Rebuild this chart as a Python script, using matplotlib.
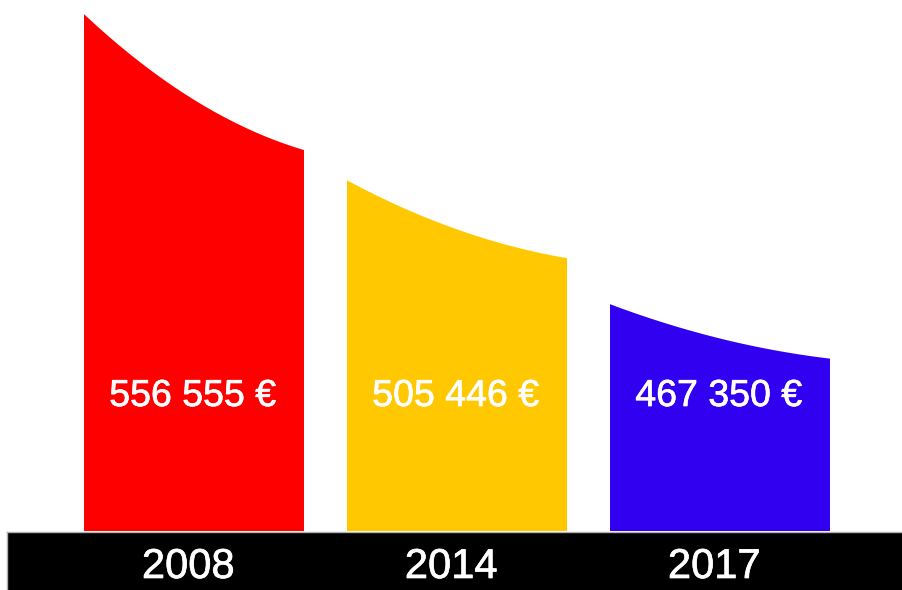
import numpy as np
import matplotlib
matplotlib.use("Agg")
import matplotlib.pyplot as plt
import matplotlib.patheffects as pe
from matplotlib.transforms import blended_transform_factory

# ---- data ----
years = ["2008", "2014", "2017"]
values = [556555, 505446, 467350]
value_labels = ["556 555 €", "505 446 €", "467 350 €"]

# ---- style ----
colors = ["#FF0000", "#FFC800", "#3200F0"]
taper = [0.737, 0.778, 0.76]       # right-edge height as fraction of left-edge height
BASE, YTOP = 397600, 560900
BAR_W = 220 / 263
CURVE_C = 0.76

plt.rcParams['font.family'] = ['Liberation Sans', 'DejaVu Sans']

W, H = 902, 590
fig = plt.figure(figsize=(W / 100, H / 100), dpi=100)
fig.patch.set_facecolor("white")

ax = fig.add_axes([0, 59 / H, 1, 531 / H])
ax.set_xlim(-194 / 263, (W - 194) / 263)
ax.set_ylim(BASE, YTOP)
ax.axis("off")

t = np.linspace(0, 1, 200)
f = 2 * t * (1 - t) * CURVE_C + t ** 2
for i, (v, c, tp) in enumerate(zip(values, colors, taper)):
    x0, x1 = i - BAR_W / 2, i + BAR_W / 2
    y_left = v
    y_right = BASE + (v - BASE) * tp
    xs_top = x0 + (x1 - x0) * t
    ys_top = y_left + (y_right - y_left) * f
    xs = np.concatenate([[x0], xs_top, [x1, x0]])
    ys = np.concatenate([[BASE], ys_top, [BASE, BASE]])
    ax.fill(xs, ys, color=c, lw=0)

thick = [pe.withStroke(linewidth=0.5, foreground="white")]

tr_val = blended_transform_factory(ax.transData, ax.transAxes)
for i, lab in enumerate(value_labels):
    ax.text(i - 0.005, (531 - 406) / 531, lab, transform=tr_val, ha="center", va="baseline",
            color="white", fontsize=27, path_effects=thick)

band = fig.add_axes([7 / W, 0, (W - 7) / W, 58 / H])
band.set_facecolor("black")
band.set_xticks([]); band.set_yticks([])
for s in band.spines.values():
    s.set_color("#b0b0b0"); s.set_linewidth(1)
band.spines["bottom"].set_visible(False)
band.spines["right"].set_visible(False)

tr_year = blended_transform_factory(ax.transData, band.transAxes)
for i, yr in enumerate(years):
    fig.text(i - 0.022, (590 - 578) / 58, yr, transform=tr_year, ha="center", va="baseline",
             color="white", fontsize=30, path_effects=thick)

fig.savefig("out.png", dpi=100, facecolor="white")
